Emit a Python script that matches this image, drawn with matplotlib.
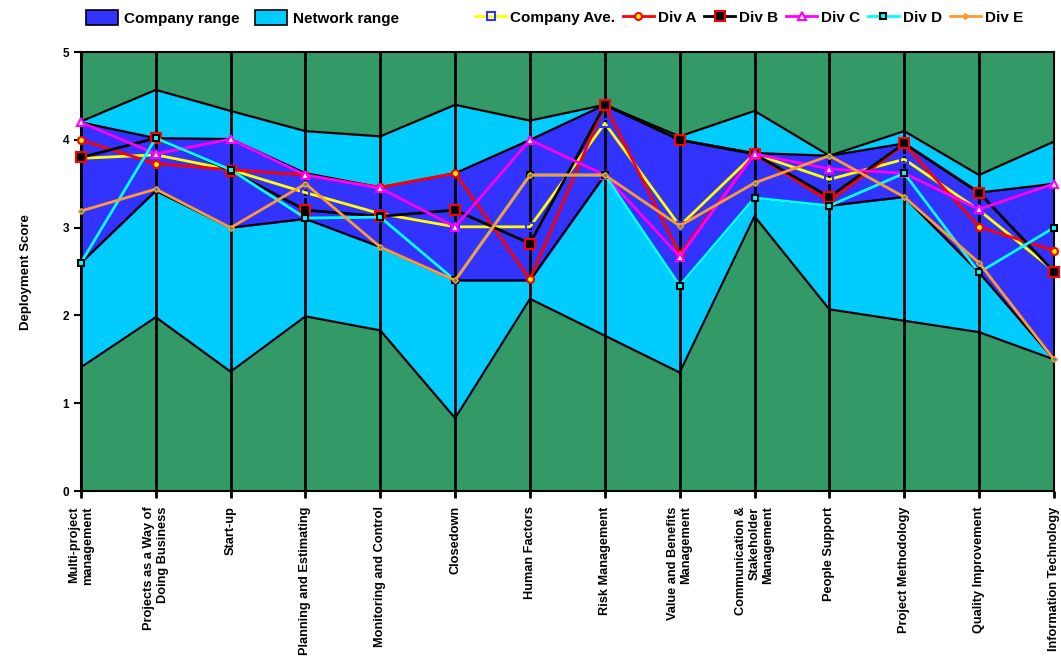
import numpy as np
import matplotlib
matplotlib.use('Agg')
from matplotlib import pyplot as plt
from matplotlib.patches import Patch
from matplotlib.lines import Line2D

plt.rcParams['font.family'] = ['Liberation Sans', 'DejaVu Sans']
plt.rcParams['font.weight'] = 'bold'

# Категории
categories = ['Multi-project\nmanagement', 'Projects as a Way of\nDoing Business', 'Start-up',
              'Planning and Estimating', 'Monitoring and Control', 'Closedown', 'Human Factors',
              'Risk Management', 'Value and Benefits\nManagement',
              'Communication &\nStakeholder\nManagement', 'People Support', 'Project Methodology',
              'Quality Improvement', 'Information Technology']

# Диапазоны
network_high = [4.21, 4.57, 4.33, 4.10, 4.04, 4.40, 4.22, 4.40, 4.04, 4.33, 3.82, 4.10, 3.60, 3.98]
network_low = [1.41, 1.98, 1.36, 1.99, 1.83, 0.83, 2.19, 1.77, 1.35, 3.13, 2.07, 1.94, 1.81, 1.50]
company_high = [4.20, 4.02, 4.01, 3.62, 3.46, 3.62, 4.00, 4.40, 4.00, 3.85, 3.82, 3.96, 3.40, 3.50]
company_low = [2.60, 3.42, 3.00, 3.10, 2.78, 2.40, 2.40, 3.60, 2.34, 3.34, 3.25, 3.35, 2.49, 1.50]

# Серии
company_ave = [3.79, 3.83, 3.66, 3.40, 3.16, 3.01, 3.01, 4.19, 3.02, 3.84, 3.55, 3.78, 3.20, 2.51]
div_a = [4.00, 3.73, 3.66, 3.60, 3.46, 3.62, 2.41, 4.40, 2.70, 3.84, 3.30, 3.95, 3.01, 2.74]
div_b = [3.80, 4.02, 3.65, 3.20, 3.13, 3.20, 2.82, 4.40, 4.00, 3.84, 3.35, 3.96, 3.40, 2.50]
div_c = [4.20, 3.84, 4.01, 3.60, 3.45, 3.01, 4.00, 3.60, 2.67, 3.84, 3.67, 3.62, 3.21, 3.50]
div_d = [2.60, 4.02, 3.66, 3.11, 3.12, 2.40, 3.60, 3.60, 2.34, 3.34, 3.25, 3.62, 2.49, 3.00]
div_e = [3.19, 3.44, 3.00, 3.50, 2.78, 2.40, 3.60, 3.60, 3.02, 3.51, 3.82, 3.35, 2.60, 1.50]

x = np.arange(len(categories))

# стили серий
styles = {
    'Company Ave.': dict(color='#FFFF00', marker='s', ms=6, mfc='none', mec='#3333FF', mew=1.5),
    'Div A': dict(color='#FF0000', marker='o', ms=5, mfc='#FFFF00', mec='#FF0000', mew=1.5),
    'Div B': dict(color='black', marker='s', ms=7, mfc='black', mec='#FF0000', mew=1.5),
    'Div C': dict(color='#FF00FF', marker='^', ms=6, mfc='white', mec='#FF00FF', mew=1.5),
    'Div D': dict(color='#00FFFF', marker='s', ms=5, mfc='#00FFFF', mec='black', mew=1.5),
    'Div E': dict(color='#FF9933', marker='D', ms=3, mfc='#339966', mec='#FF9933', mew=1),
}
series = {'Company Ave.': company_ave, 'Div A': div_a, 'Div B': div_b,
          'Div C': div_c, 'Div D': div_d, 'Div E': div_e}

fig = plt.figure(figsize=(10.61, 6.6), dpi=100)
ax = fig.add_axes([0.0763, 0.256, 0.917, 0.665])
ax.set_facecolor('#339966')

ax.fill_between(x, network_low, network_high, color='#00CCFF', zorder=1)
ax.fill_between(x, company_low, company_high, color='#3333FF', zorder=2)
for s in (network_low, network_high, company_low, company_high):
    ax.plot(x, s, color='black', lw=1.6, zorder=3)

for xi in x:
    ax.axvline(xi, color='black', lw=2, zorder=3)

for name, vals in series.items():
    ax.plot(x, vals, lw=2, zorder=5, clip_on=False, **styles[name])

ax.set_xlim(0, 13)
ax.set_ylim(0, 5)
ax.set_yticks([0, 1, 2, 3, 4, 5])
ax.set_xticks(x)
ax.set_xticklabels(categories, rotation=90, fontsize=9.2, fontweight='bold', ha='center', va='top', multialignment='right')
ax.tick_params(axis='y', labelsize=8.5, width=1.5, length=5, direction='out')
ax.tick_params(axis='x', width=2, length=5, direction='out', pad=6)
for sp in ax.spines.values():
    sp.set_linewidth(1.5)
ax.set_ylabel('Deployment Score', fontsize=9.5, fontweight='bold', labelpad=22)

fig.legend(handles=[Patch(facecolor='#3333FF', edgecolor='black', lw=1.2, label='Company range'),
                    Patch(facecolor='#00CCFF', edgecolor='black', lw=1.2, label='Network range')],
           loc='center left', bbox_to_anchor=(0.068, 0.973), ncol=2, frameon=False,
           fontsize=11, handlelength=2.1, handleheight=1.2, columnspacing=1.0, handletextpad=0.4)
handles = []
for name in series:
    st = dict(styles[name])
    if name == 'Div E':
        st['mfc'] = '#FF9933'
    handles.append(Line2D([], [], lw=2, label=name, **st))
fig.legend(handles=handles, loc='center left', bbox_to_anchor=(0.435, 0.973), ncol=6, frameon=False,
           fontsize=11, handlelength=2.0, columnspacing=0.5, handletextpad=0.3)

fig.savefig('out.png', dpi=100)
